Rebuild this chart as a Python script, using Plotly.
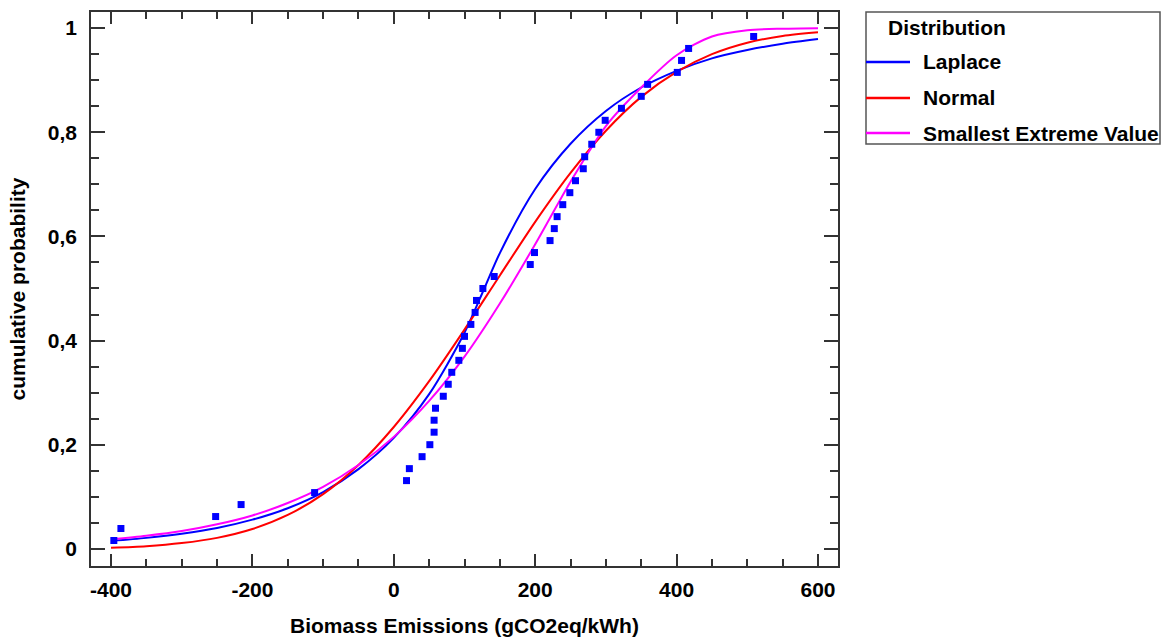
import plotly.graph_objects as go

# ---------------- data ----------------
obs_x = [-396, -386, -252, -216, -112, 18, 22, 40, 51, 57, 57, 59, 70, 77, 82,
         92, 97, 100, 109, 115, 117, 126, 142, 193, 199, 221, 227, 231, 239, 249,
         257, 268, 270, 280, 290, 299, 322, 350, 359, 401, 407, 417, 509]
obs_p = [0.016, 0.039, 0.062, 0.085, 0.108, 0.131, 0.154, 0.177, 0.200, 0.224,
         0.247, 0.270, 0.293, 0.316, 0.339, 0.362, 0.385, 0.408, 0.431, 0.454,
         0.477, 0.500, 0.523, 0.546, 0.569, 0.592, 0.615, 0.638, 0.661, 0.684,
         0.707, 0.730, 0.753, 0.777, 0.800, 0.823, 0.846, 0.869, 0.892, 0.915,
         0.938, 0.961, 0.984]

grid_x = [-400, -350, -300, -250, -200, -150, -100, -50, 0, 50, 100, 150, 200,
          250, 300, 350, 400, 450, 500, 550, 600]
laplace_x = [-400, -350, -300, -250, -200, -150, -100, -50, 0, 50, 100, 128, 150,
             200, 250, 300, 350, 400, 450, 500, 550, 600]
laplace_p = [0.015, 0.021, 0.029, 0.040, 0.056, 0.078, 0.109, 0.153, 0.213, 0.297,
             0.415, 0.500, 0.568, 0.691, 0.778, 0.841, 0.886, 0.918, 0.942, 0.958,
             0.970, 0.979]
normal_p = [0.002, 0.005, 0.011, 0.021, 0.038, 0.065, 0.105, 0.161, 0.234, 0.322,
            0.421, 0.525, 0.628, 0.722, 0.803, 0.868, 0.916, 0.950, 0.972, 0.985,
            0.992]
sev_p = [0.018, 0.025, 0.034, 0.047, 0.064, 0.088, 0.119, 0.161, 0.215, 0.284,
         0.369, 0.471, 0.585, 0.705, 0.812, 0.886, 0.948, 0.984, 0.996, 0.999,
         1.000]

series_names = ["Laplace", "Normal", "Smallest Extreme Value"]
series_colors = ["#0000FF", "#FF0000", "#FF00FF"]

x_ticks = [-400, -200, 0, 200, 400, 600]
x_tick_text = ["-400", "-200", "0", "200", "400", "600"]
y_ticks = [0, 0.2, 0.4, 0.6, 0.8, 1.0]
y_tick_text = ["0", "0,2", "0,4", "0,6", "0,8", "1"]

# ---------------- layout geometry ----------------
W, H = 1163, 637
ML, MR, MT, MB = 91, 325, 12, 71
PW, PH = W - ML - MR, H - MT - MB
FONT = "Liberation Sans, Arial, sans-serif"
FS = 21


def px_x(px):
    return (px - ML) / PW


def px_y(py):
    return (H - MB - py) / PH


fig = go.Figure()
curves = [(laplace_x, laplace_p), (grid_x, normal_p), (grid_x, sev_p)]
for (cx, cy), name, col in zip(curves, series_names, series_colors):
    fig.add_trace(go.Scatter(x=cx, y=cy, mode="lines", name=name,
                             line=dict(color=col, width=2, shape="spline", smoothing=0.8),
                             showlegend=False, hoverinfo="skip"))

fig.add_trace(go.Scatter(x=obs_x, y=obs_p, mode="markers", name="observed",
                         marker=dict(symbol="square", size=7, color="#0000FF",
                                     line=dict(width=0)),
                         showlegend=False))

axis_common = dict(showline=True, linecolor="#333333", linewidth=1.5, mirror="ticks",
                   ticks="inside", tickcolor="#333333", tickwidth=1.5,
                   showgrid=False, zeroline=False, automargin=False,
                   tickfont=dict(family=FONT, size=FS, color="black"))

fig.update_xaxes(range=[-428.3, 628.3], tickvals=x_ticks,
                 ticktext=["<b>" + t + "</b>" for t in x_tick_text], ticklen=12,
                 ticklabelstandoff=4,
                 minor=dict(dtick=50, ticks="inside", ticklen=7, tickcolor="#333333",
                            tickwidth=1.5, showgrid=False),
                 title=dict(text="<b>Biomass Emissions (gCO2eq/kWh)</b>", standoff=22,
                            font=dict(family=FONT, size=FS, color="black")),
                 **axis_common)
fig.update_yaxes(range=[-0.033, 1.031], tickvals=y_ticks,
                 ticktext=["<b>" + t + "</b>" for t in y_tick_text], ticklen=14,
                 ticklabelstandoff=8,
                 minor=dict(dtick=0.05, ticks="inside", ticklen=8, tickcolor="#333333",
                            tickwidth=1.5, showgrid=False),
                 title=dict(text="<b>cumulative probability</b>", standoff=16,
                            font=dict(family=FONT, size=FS, color="black")),
                 **axis_common)

# ---------------- custom legend (matches reference box layout) ----------------
shapes = [dict(type="rect", xref="paper", yref="paper",
               x0=px_x(866), x1=px_x(1160), y0=px_y(144), y1=px_y(12),
               line=dict(color="#555555", width=1.5), fillcolor="white", layer="above")]
annotations = [dict(text="<b>Distribution</b>", xref="paper", yref="paper",
                    x=px_x(886), y=px_y(28), xanchor="left", yanchor="middle",
                    showarrow=False, font=dict(family=FONT, size=FS, color="black"))]
row_y = [62, 98, 133]
for name, col, ry in zip(series_names, series_colors, row_y):
    shapes.append(dict(type="line", xref="paper", yref="paper",
                       x0=px_x(866), x1=px_x(910), y0=px_y(ry), y1=px_y(ry),
                       line=dict(color=col, width=2.5), layer="above"))
    annotations.append(dict(text="<b>" + name + "</b>", xref="paper", yref="paper",
                            x=px_x(921), y=px_y(ry), xanchor="left", yanchor="middle",
                            showarrow=False,
                            font=dict(family=FONT, size=FS, color="black")))

fig.update_layout(width=W, height=H, margin=dict(l=ML, r=MR, t=MT, b=MB),
                  paper_bgcolor="white", plot_bgcolor="white",
                  font=dict(family=FONT, color="black"),
                  shapes=shapes, annotations=annotations, showlegend=False)

# the page body has a default 8px margin; remove it so the figure fills the window
fig.write_html("out.html", config={"displayModeBar": False},
               post_script="document.body.style.margin='0';document.body.style.overflow='hidden';")
